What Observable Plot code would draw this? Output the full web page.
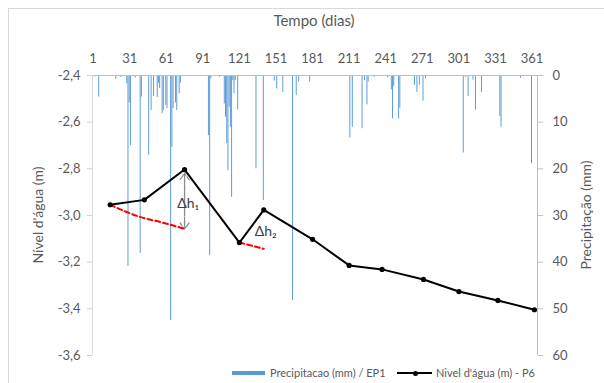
<!DOCTYPE html>
<html><head><meta charset="utf-8">
<script src="https://cdn.jsdelivr.net/npm/d3@7"></script>
<script src="https://cdn.jsdelivr.net/npm/@observablehq/plot@0.6"></script>
<style>
body{margin:0;background:#fff;}
#wrap{position:relative;width:604px;height:383px;font-family:Lato,sans-serif;overflow:hidden;background:#fff}
#border{position:absolute;left:8px;top:8px;width:600px;height:380px;border-left:1px solid #d9d9d9;border-top:1px solid #d9d9d9}
#chart{position:absolute;left:0;top:0}
.t{position:absolute;color:#595959;white-space:nowrap;line-height:1}
.rot{transform:translate(-50%,-50%) rotate(-90deg)}
.lg{position:absolute;font-size:11px;color:#595959;white-space:nowrap;line-height:1}
</style></head>
<body><div id="wrap"><div id="border"></div><div id="chart"></div>
<div class="t" id="tTop" style="left:314px;top:20px;font-size:15px;transform:translate(-50%,-50%)">Tempo (dias)</div>
<div class="t rot" style="left:38px;top:215px;font-size:14px">Nível d'água (m)</div>
<div class="t rot" style="left:586px;top:215px;font-size:14px">Precipitação (mm)</div>
<div style="position:absolute;left:232px;top:371px;width:33px;height:4px;background:#5B9BD5"></div>
<div class="lg" style="left:270px;top:367px">Precipitacao (mm) / EP1</div>
<div style="position:absolute;left:397px;top:372px;width:35px;height:2px;background:#000"></div>
<div style="position:absolute;left:412.5px;top:370.5px;width:5px;height:5px;border-radius:50%;background:#000"></div>
<div class="lg" style="left:436px;top:367px">Nivel d'água (m) - P6</div>
</div>
<script>
// Nível d'água (m) - P6
const diasNivel = [15, 43, 76, 121, 141, 181, 211, 238, 272, 301, 333, 363];
const nivel = [-2.954, -2.933, -2.803, -3.116, -2.976, -3.102, -3.214, -3.231, -3.274, -3.326, -3.364, -3.404];
// Precipitação (mm) / EP1
const diasPrec = [3, 6, 20, 24, 29, 30, 31, 32, 36, 40, 41, 47, 49, 51, 54, 55, 56, 58, 59, 61, 62, 65, 66, 67, 69, 70, 72, 73,
  96, 97, 98, 105, 109, 110, 111, 112, 113, 114, 115, 116, 117, 118, 120, 135, 141, 150, 152, 157, 165, 168, 170, 179,
  212, 214, 222, 224, 226, 227, 232, 243, 246, 247, 248, 252, 253, 265, 267, 269, 272, 274,
  305, 307, 309, 313, 315, 320, 335, 336, 352, 361];
const precMm = [0.3, 4.6, 0.8, 0.4, 1.8, 40.9, 5.9, 15, 0.5, 38.1, 4.6, 17.1, 7.5, 4.5, 4.7, 1.7, 2.8, 8.2, 7.5, 6.4, 7.1, 52.5, 15.4, 7.1, 5.9, 7.5, 3.9, 1.6,
  12.9, 38.6, 0.7, 0.4, 6.1, 8.9, 14.6, 20.4, 6.8, 11.1, 26.1, 1.1, 3.9, 1.1, 7.4, 20, 26.8, 1.2, 2.9, 3.6, 48.2, 4.3, 1.4, 1.4,
  13.4, 11.1, 11.4, 1.1, 6.3, 1.4, 0.4, 0.5, 3.1, 9.3, 2.4, 9.3, 7, 2.1, 3.6, 2.1, 5.5, 0.7,
  16.6, 0.4, 4.5, 1, 7.4, 3.6, 8.8, 11.1, 0.6, 18.9];
// recessão (tracejado vermelho)
const recessao1Dias = [15, 29, 40, 57, 76];
const recessao1Nivel = [-2.954, -2.986, -3.007, -3.029, -3.057];
const recessao2Dias = [121, 141];
const recessao2Nivel = [-3.116, -3.143];
// Δh1 seta
const dh1Dia = 76, dh1Topo = -2.819, dh1Base = -3.059;
const rotulos = [{t: "Δh₁", dia: 79, nivel: -2.947}, {t: "Δh₂", dia: 142.5, nivel: -3.069}];
// eixos
const xTicks = [1, 31, 61, 91, 121, 151, 181, 211, 241, 271, 301, 331, 361];
const yTicks = [-2.4, -2.6, -2.8, -3.0, -3.2, -3.4, -3.6];
const precTicks = [0, 10, 20, 30, 40, 50, 60];

const xMin = 0.5, xMax = 365.5, yTop = -2.4, yBot = -3.6;
const mmToM = (yTop - yBot) / 60;

const nivelData = diasNivel.map((d, i) => ({dia: d, nivel: nivel[i]}));
const precData = diasPrec.map((d, i) => ({dia: d, mm: precMm[i]}));
const rec1 = recessao1Dias.map((d, i) => ({dia: d, nivel: recessao1Nivel[i]}));
const rec2 = recessao2Dias.map((d, i) => ({dia: d, nivel: recessao2Nivel[i]}));
const arrowLen = 0.1;
const setas = [
  {x1: dh1Dia, y1: dh1Topo - arrowLen, x2: dh1Dia, y2: dh1Topo},
  {x1: dh1Dia, y1: dh1Base + arrowLen, x2: dh1Dia, y2: dh1Base}
];

const chart = Plot.plot({
  width: 604, height: 362,
  marginLeft: 92, marginRight: 67, marginTop: 75, marginBottom: 7,
  x: {domain: [xMin, xMax]},
  y: {domain: [yBot, yTop]},
  style: {fontFamily: "Lato, sans-serif", fontSize: "13px", color: "#595959", background: "transparent", overflow: "visible"},
  marks: [
    Plot.rect(precData, {x1: d => d.dia - 0.4, x2: d => d.dia + 0.4, y1: yTop, y2: d => yTop - d.mm * mmToM, fill: "#5B9BD5"}),
    Plot.ruleY([yTop], {stroke: "#bfbfbf"}),
    Plot.ruleX([xMin], {stroke: "#d9d9d9"}),
    Plot.ruleX([xMax], {stroke: "#bfbfbf"}),
    Plot.axisX({anchor: "top", ticks: xTicks, tickSize: 0, tickPadding: 13, label: null, fill: "#595959"}),
    Plot.axisY({anchor: "left", ticks: yTicks, tickSize: 5, tickPadding: 7, label: null, stroke: "#d0d0d0", fill: "#595959",
      tickFormat: d => d.toFixed(1).replace(".", ",")}),
    Plot.axisY({anchor: "right", ticks: precTicks.map(p => yTop - p * mmToM), tickSize: 5, tickPadding: 10, label: null, stroke: "#bfbfbf", fill: "#595959",
      tickFormat: d => String(Math.round((yTop - d) / mmToM))}),
    Plot.ruleX([dh1Dia], {y1: dh1Topo, y2: dh1Base, stroke: "#8c8c8c", strokeWidth: 1.2, strokeDasharray: "6,2,2,2"}),
    Plot.arrow(setas, {x1: "x1", y1: "y1", x2: "x2", y2: "y2", stroke: "#8c8c8c", strokeWidth: 1.2, strokeDasharray: "6,2,2,2", headLength: 10, headAngle: 70}),
    Plot.line(rec1, {x: "dia", y: "nivel", stroke: "#ff0000", strokeWidth: 2, strokeDasharray: "5,3", curve: "monotone-x"}),
    Plot.line(rec2, {x: "dia", y: "nivel", stroke: "#ff0000", strokeWidth: 2, strokeDasharray: "5,3"}),
    Plot.line(nivelData, {x: "dia", y: "nivel", stroke: "#000", strokeWidth: 2}),
    Plot.dot(nivelData, {x: "dia", y: "nivel", r: 2.6, fill: "#000"}),
    Plot.text(rotulos, {x: "dia", y: "nivel", text: "t", fontSize: 14, fill: "#404040"})
  ]
});
document.getElementById("chart").appendChild(chart);
</script>
</body></html>
